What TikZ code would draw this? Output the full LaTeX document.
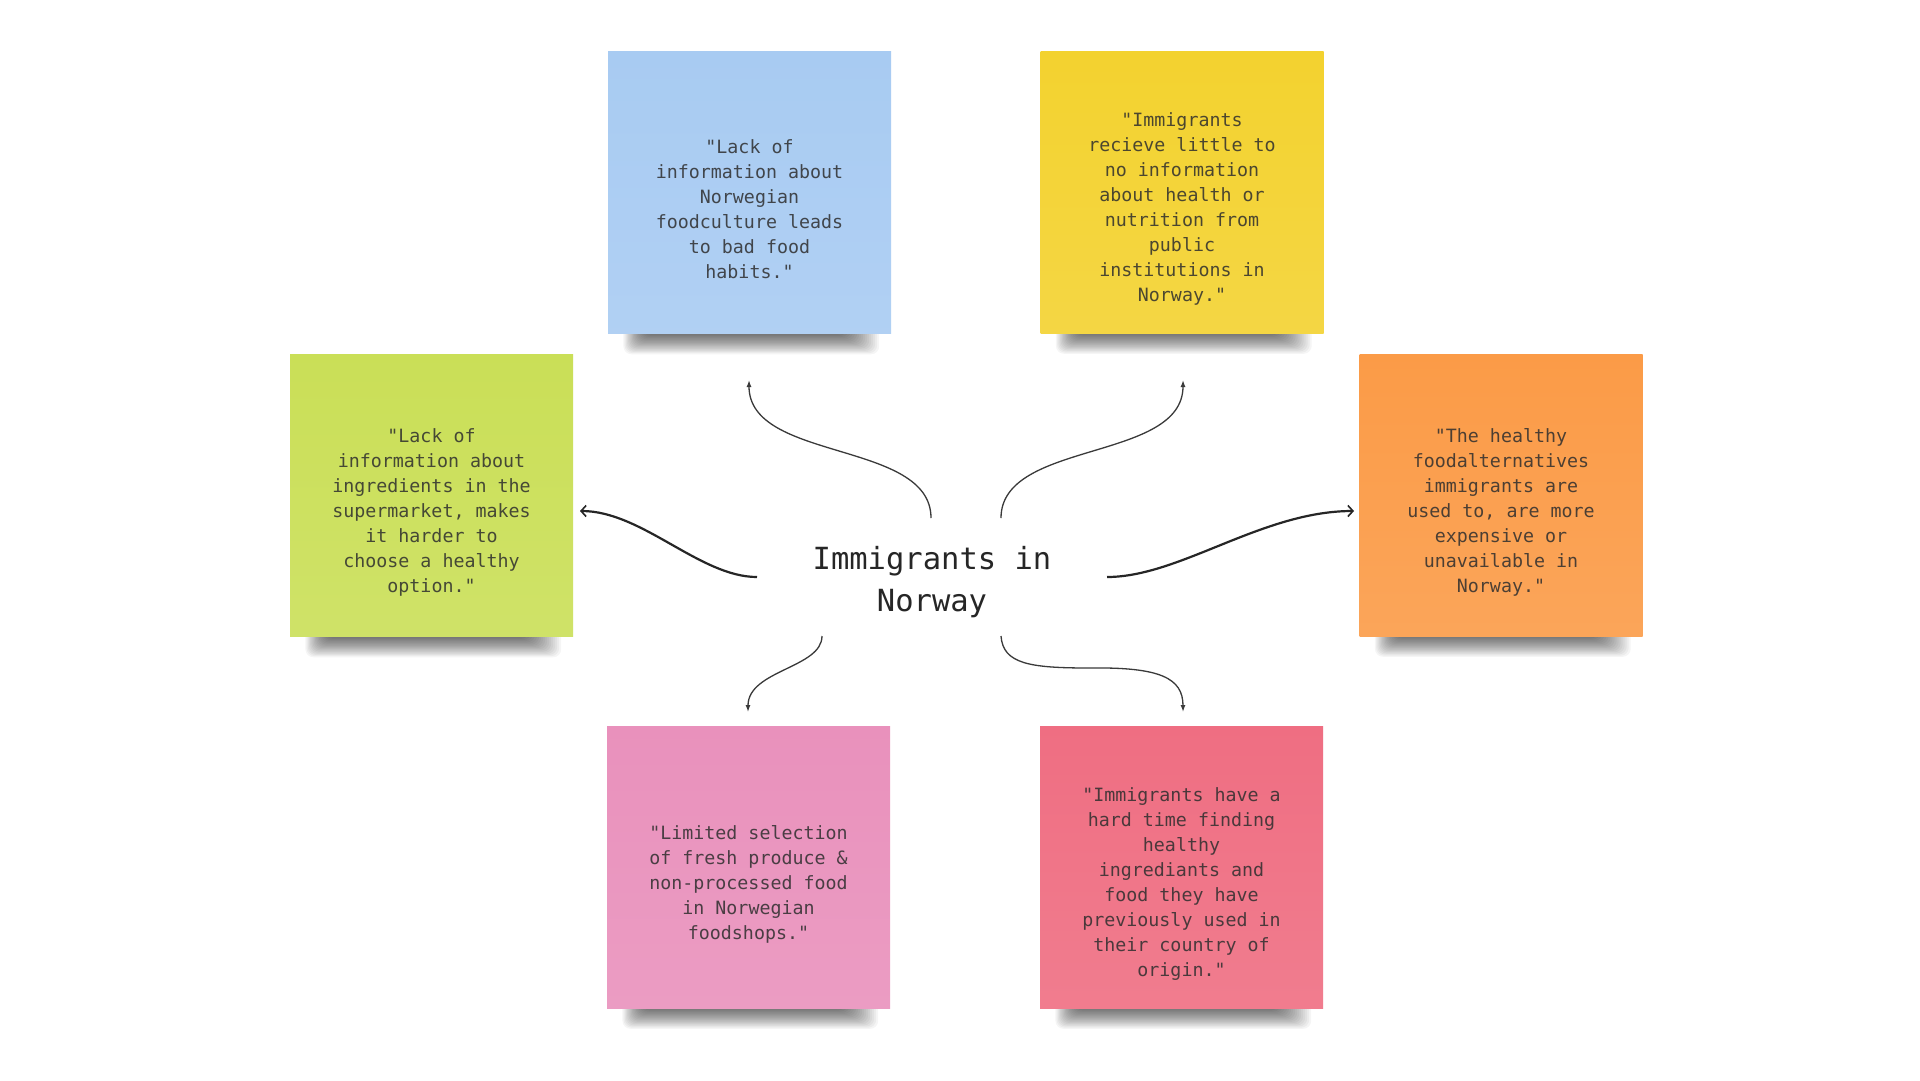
\documentclass[tikz,border=0pt]{standalone}
\usepackage{fontspec}
\newfontfamily\notefont{DejaVu Sans Mono}
\usetikzlibrary{arrows.meta}
\pgfdeclarelayer{bg}
\pgfdeclarelayer{paper}
\pgfsetlayers{paper,bg,main}
\definecolor{cblue}{HTML}{A8CBF2}
\definecolor{cyellow}{HTML}{F3D22F}
\definecolor{cgreen}{HTML}{CADF57}
\definecolor{corange}{HTML}{FB9B47}
\definecolor{cpink}{HTML}{E991BC}
\definecolor{cred}{HTML}{EF6E82}
\definecolor{ctext}{HTML}{2E2E2E}
\definecolor{cline}{HTML}{3A3A3A}
\tikzset{
  note/.style={minimum width=283pt, minimum height=282pt, inner sep=0pt,
    top color=#1, bottom color=#1!90!white, draw=none},
  shadowring/.style={fill=black, fill opacity=0.038, draw=none},
  notetext/.style={font=\notefont\fontsize{18.3}{25}\selectfont, align=center,
    text=ctext, text opacity=0.85, inner sep=0pt},
  hubtext/.style={font=\notefont\fontsize{30.5}{42}\selectfont, align=center,
    text=black!85, inner sep=0pt},
  thinarrow/.style={draw=cline, line width=1.3pt, -{Latex[length=7pt,width=5pt]}},
  thickarrow/.style={draw=black!85, line width=2.2pt, -{Straight Barb[length=5pt,width=11pt,line width=1.6pt]}}
}
\newcommand\stickyshadow[1]{%
  \foreach \r in {0,...,17}{%
    \fill[shadowring, rounded corners=8pt]
      ([xshift={36-1.2*\r}, yshift={-1-1.15*\r}]#1.south west)
      rectangle ([xshift={-46+2.0*\r}, yshift=40pt]#1.south east);
  }%
}
\begin{document}
\begin{tikzpicture}[x={(1pt,0)}, y={(0,-1pt)}]
\begin{pgfonlayer}{paper}
\fill[white] (0,0) rectangle (1920,1080);
\end{pgfonlayer}
\useasboundingbox (0,0) rectangle (1920,1080);

% notes
\node[note=cblue]   (nblue)   at (749.5,192.5) {};
\node[note=cyellow] (nyellow) at (1182,192)   {};
\node[note=cgreen]  (ngreen)  at (431.5,495.5) {};
\node[note=corange] (norange) at (1501,495)   {};
\node[note=cpink]   (npink)   at (748.5,867)  {};
\node[note=cred]    (nred)    at (1181.5,867) {};

\begin{pgfonlayer}{bg}
  \stickyshadow{nblue}
  \stickyshadow{nyellow}
  \stickyshadow{ngreen}
  \stickyshadow{norange}
  \stickyshadow{npink}
  \stickyshadow{nred}
\end{pgfonlayer}

% note texts
\node[notetext] (tblue) at (749.5,209.5) {"Lack of\\information about\\Norwegian\\foodculture leads\\to bad food\\habits."};
\node[notetext] (tyellow) at (1182,209) {"Immigrants\\recieve little to\\no information\\about health or\\nutrition from\\public\\institutions in\\Norway."};
\node[notetext] (tgreen) at (431.5,512) {"Lack of\\information about\\ingredients in the\\supermarket, makes\\it harder to\\choose a healthy\\option."};
\node[notetext] (torange) at (1501,512) {"The healthy\\foodalternatives\\immigrants are\\used to, are more\\expensive or\\unavailable in\\Norway."};
\node[notetext] (tpink) at (748.5,884) {"Limited selection\\of fresh produce \&\\non-processed food\\in Norwegian\\foodshops."};
\node[notetext] (tred) at (1181.5,884) {"Immigrants have a\\hard time finding\\healthy\\ingrediants and\\food they have\\previously used in\\their country of\\origin."};

% hub
\node[hubtext] (hub) at (932,582) {Immigrants in\\Norway};

% connector end points
\coordinate (sblue) at (931,518);   \coordinate (eblue) at (749,380);
\coordinate (syellow) at (1001,518); \coordinate (eyellow) at (1183,380);
\coordinate (sgreen) at (757,577);  \coordinate (egreen) at (580,511);
\coordinate (sorange) at (1107,577); \coordinate (eorange) at (1354,511);
\coordinate (spink) at (822,636);   \coordinate (epink) at (748,712);
\coordinate (sred) at (1001,636);   \coordinate (mred) at (1090,668); \coordinate (ered) at (1183,712);

\draw[thinarrow] (sblue) .. controls (931,440) and (749,462) .. (eblue);
\draw[thinarrow] (syellow) .. controls (1001,440) and (1183,462) .. (eyellow);
\draw[thickarrow] (sgreen) .. controls (700,577) and (642,511) .. (egreen);
\draw[thickarrow] (sorange) .. controls (1180,577) and (1262,511) .. (eorange);
\draw[thinarrow] (spink) .. controls (822,668) and (748,670) .. (epink);
\draw[thinarrow] (sred) .. controls (1003,664) and (1030,668) .. (mred) .. controls (1160,667) and (1183,678) .. (ered);
\end{tikzpicture}
\end{document}
